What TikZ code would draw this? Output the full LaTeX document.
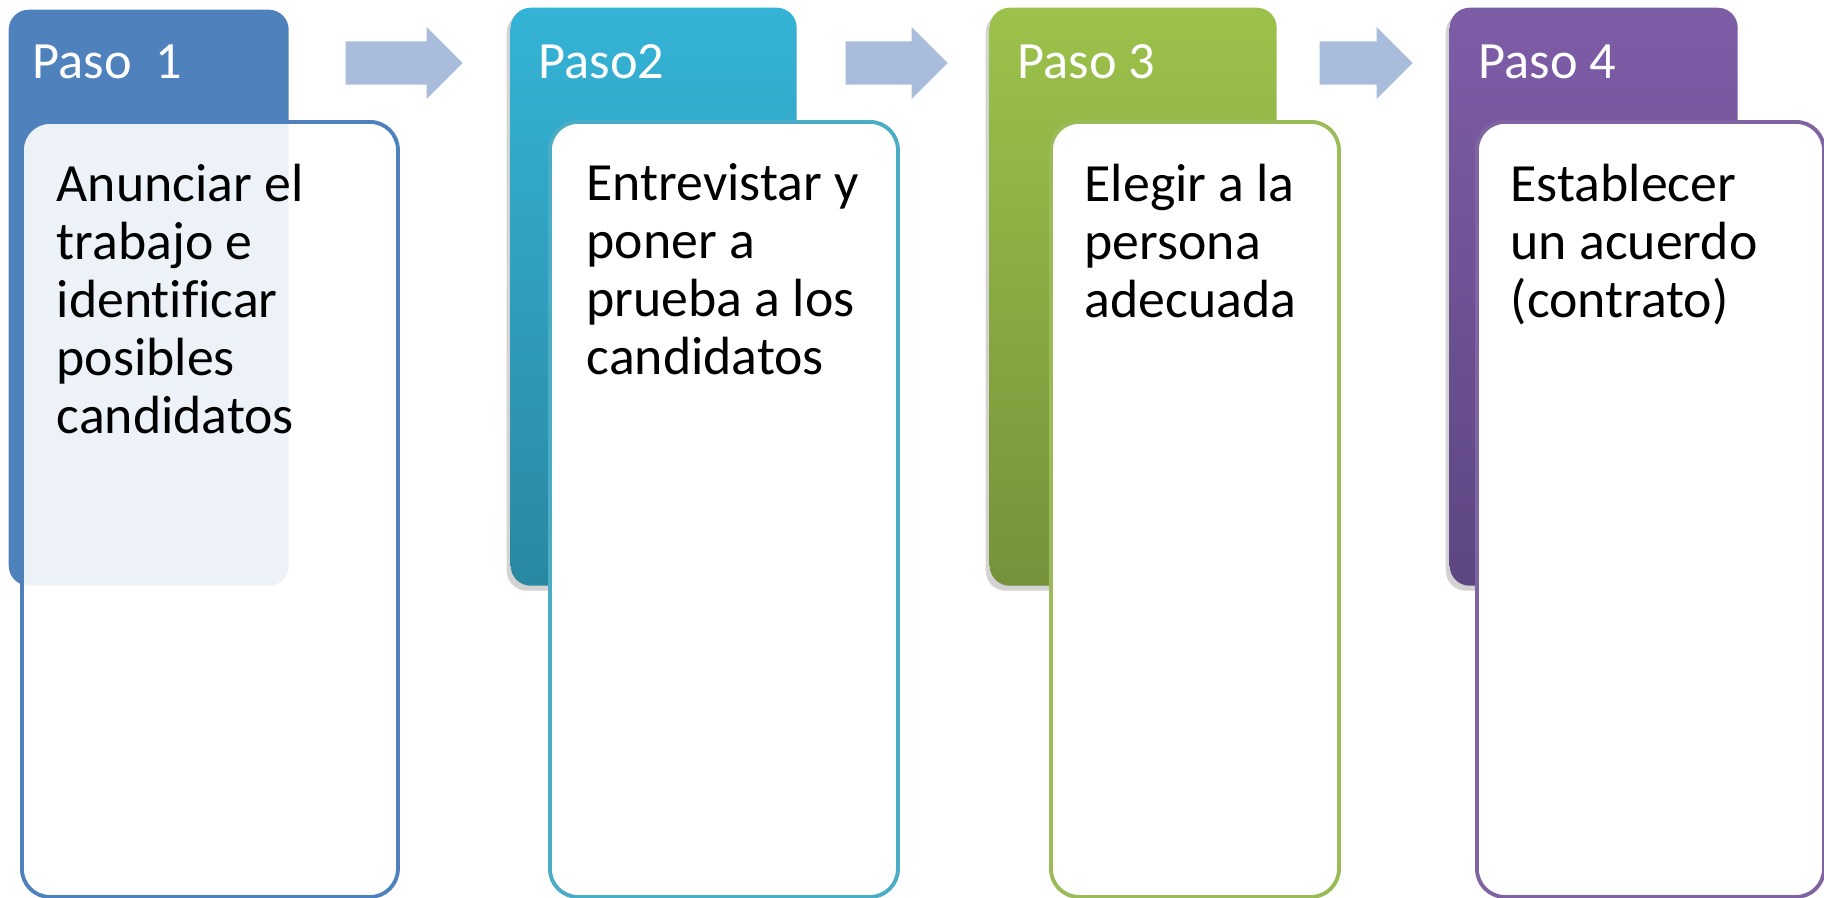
\documentclass[tikz,border=0pt]{standalone}
\usepackage{fontspec}
\setmainfont{Carlito}[Ligatures=NoCommon]
\usepackage{tikz}
\usetikzlibrary{shapes,arrows,positioning,shadows}

\definecolor{pasoblue}{HTML}{4F81BD}
\definecolor{pasocyan}{HTML}{34B3D6}
\definecolor{pasocyandk}{HTML}{2A88A1}
\definecolor{cardcyan}{HTML}{4BACC6}
\definecolor{pasogreen}{HTML}{9CC24B}
\definecolor{pasogreendk}{HTML}{74923A}
\definecolor{cardgreen}{HTML}{9BBB59}
\definecolor{pasopurple}{HTML}{7E5DA7}
\definecolor{pasopurpledk}{HTML}{5D4681}
\definecolor{cardpurple}{HTML}{8064A2}
\definecolor{flecha}{HTML}{A9BCDB}

\begin{document}
\begin{tikzpicture}[
    x=0.1mm, y=-0.1mm,
    tab/.style={rectangle, anchor=north west, rounded corners=2mm, minimum height=57.6mm, inner sep=0pt},
    card/.style={rectangle, anchor=north west, draw, line width=1.1pt, fill=white, rounded corners=2.8mm, minimum height=77.5mm, inner sep=0pt},
    shade tab/.style={drop shadow={shadow xshift=-0.4mm, shadow yshift=-0.5mm, opacity=0.35}},
    title/.style={text=white, font=\fontsize{14.9pt}{17pt}\selectfont, inner sep=0pt, anchor=north west},
    body/.style={text=black, font=\fontsize{15.3pt}{16.5pt}\selectfont, align=left, inner sep=0pt, anchor=north west},
    flechabox/.style={single arrow, fill=flecha, draw=none, inner xsep=0pt, inner ysep=2.1mm, minimum width=7.1mm, single arrow head extend=1.45mm, anchor=tail}
]
\useasboundingbox (0,0) rectangle (1824,897);

% Paso 1
\node[tab, fill=pasoblue, minimum width=28mm] (tab1) at (8,9) {};
\node[card, draw=pasoblue, fill opacity=0.9, minimum width=37.6mm] (card1) at (20,120) {};
\node[title, below right=3.5mm and 2.4mm of tab1.north west] (paso1) {Paso\ \ 1};
\node[body, below right=4.3mm and 3.6mm of card1.north west] (texto1) {Anunciar el\\trabajo e\\identificar\\posibles\\candidatos};

% Paso 2
\node[tab, shade tab, top color=pasocyan, bottom color=pasocyandk, minimum width=28.6mm, minimum height=57.8mm] (tab2) at (510,7) {};
\node[card, draw=cardcyan, minimum width=34.8mm] (card2) at (548,120) {};
\node[title, below right=3.7mm and 2.8mm of tab2.north west] (paso2) {Paso2};
\node[body, below right=4.3mm and 3.8mm of card2.north west] (texto2) {Entrevistar y\\poner a\\prueba a los\\candidatos};

% Paso 3
\node[tab, shade tab, top color=pasogreen, bottom color=pasogreendk, minimum width=28.7mm, minimum height=57.8mm] (tab3) at (989,7) {};
\node[card, draw=cardgreen, minimum width=28.8mm] (card3) at (1049,120) {};
\node[title, below right=3.7mm and 2.8mm of tab3.north west] (paso3) {Paso 3};
\node[body, below right=4.3mm and 3.5mm of card3.north west] (texto3) {Elegir a la\\persona\\adecuada};

% Paso 4
\node[tab, shade tab, top color=pasopurple, bottom color=pasopurpledk, minimum width=28.8mm, minimum height=57.8mm] (tab4) at (1449,7) {};
\node[card, draw=cardpurple, minimum width=34.7mm] (card4) at (1475,120) {};
\node[title, below right=3.7mm and 2.9mm of tab4.north west] (paso4) {Paso 4};
\node[body, below right=4.3mm and 3.5mm of card4.north west] (texto4) {Establecer\\un acuerdo\\(contrato)};

% Flechas
\node[flechabox, minimum height=11.7mm] (flecha1) at (345,63) {};
\node[flechabox, minimum height=10.2mm] (flecha2) at (845,63) {};
\node[flechabox, minimum height=9.3mm] (flecha3) at (1319,63) {};

\end{tikzpicture}
\end{document}
